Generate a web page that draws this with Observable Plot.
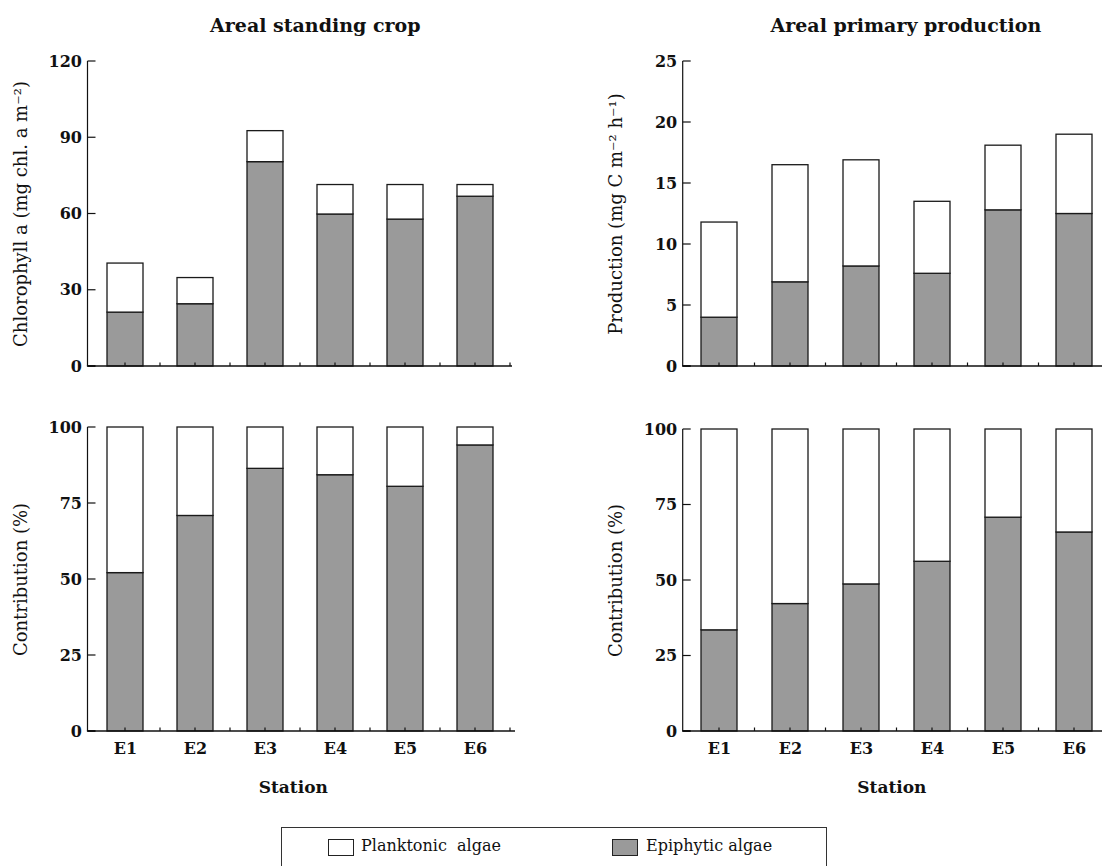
<!DOCTYPE html>
<html><head><meta charset="utf-8">
<script src="https://cdn.jsdelivr.net/npm/d3@7"></script>
<script src="https://cdn.jsdelivr.net/npm/@observablehq/plot@0.6"></script>
<style>
html,body{margin:0;padding:0;background:#fff;overflow:hidden;width:1102px;height:866px;}
#wrap{position:relative;width:1102px;height:866px;overflow:hidden;font-family:"DejaVu Serif",serif;color:#111;}
.panel{position:absolute;}
#legend{position:absolute;left:281px;top:827px;width:546px;height:42px;border:1px solid #333;box-sizing:border-box;background:#fff;}
#legend .sw{position:absolute;top:11px;width:26px;height:17px;border:1px solid #222;box-sizing:border-box;}
#legend .lb{position:absolute;top:8px;font-size:16px;line-height:20px;white-space:pre;}
</style></head><body><div id="wrap"></div>
<script>
// ---------- data ----------
const stations = ["E1", "E2", "E3", "E4", "E5", "E6"];
const seriesNames = ["Epiphytic algae", "Planktonic algae"];
const seriesColors = ["#9a9a9a", "#ffffff"];

// Areal standing crop (mg chl. a m-2)
const chlEpiphytic  = [21.2, 24.5, 80.4, 59.8, 57.8, 66.8];
const chlPlanktonic = [19.3, 10.3, 12.2, 11.6, 13.6, 4.6];
// Areal primary production (mg C m-2 h-1)
const prodEpiphytic  = [4.0, 6.9, 8.2, 7.6, 12.8, 12.5];
const prodPlanktonic = [7.8, 9.6, 8.7, 5.9, 5.3, 6.5];
// Contribution (%) – standing crop
const chlEpiphyticPct  = [52.1, 70.9, 86.4, 84.3, 80.5, 94.1];
const chlPlanktonicPct = [47.9, 29.1, 13.6, 15.7, 19.5, 5.9];
// Contribution (%) – production
const prodEpiphyticPct  = [33.5, 42.2, 48.7, 56.2, 70.8, 65.9];
const prodPlanktonicPct = [66.5, 57.8, 51.3, 43.8, 29.2, 34.1];

const ticksChl = [0, 30, 60, 90, 120];
const ticksProd = [0, 5, 10, 15, 20, 25];
const ticksPct = [0, 25, 50, 75, 100];

const titles = ["Areal standing crop", "Areal primary production"];
const yLabels = ["Chlorophyll a (mg chl. a m\u207B\u00B2)", "Production (mg C m\u207B\u00B2 h\u207B\u00B9)", "Contribution (%)"];
const xLabel = "Station";

// ---------- helpers ----------
function rows(epi, plank) {
  return stations.map((s, i) => ({station: s, type: seriesNames[0], value: epi[i]}))
    .concat(stations.map((s, i) => ({station: s, type: seriesNames[1], value: plank[i]})));
}

const PAD = 0.49;

function axesMark(yTicks, xExtend) {
  return (index, scales, values, dims) => {
    const {x, y} = scales;
    const g = d3.create("svg:g").attr("fill", "none").attr("stroke", "#111");
    const left = dims.marginLeft;
    const right = dims.width - dims.marginRight + xExtend;
    const y0 = y(0);
    g.append("line").attr("x1", left).attr("x2", left)
      .attr("y1", y(yTicks[yTicks.length - 1])).attr("y2", y0).attr("stroke-width", 1.2);
    g.append("line").attr("x1", left - 0.6).attr("x2", right)
      .attr("y1", y0).attr("y2", y0).attr("stroke-width", 1.7);
    for (const t of yTicks) {
      g.append("line").attr("x1", left).attr("x2", left + 8)
        .attr("y1", y(t)).attr("y2", y(t)).attr("stroke-width", t === 0 ? 2 : 1.2);
    }
    const step = x(stations[1]) - x(stations[0]);
    let bw = x.bandwidth;
    bw = typeof bw === "function" ? bw() : (typeof bw === "number" ? bw : step * (1 - PAD));
    for (const s of stations) {
      const c = x(s) + bw / 2;
      for (const xx of [c, c + step / 2]) {
        g.append("line").attr("x1", xx).attr("x2", xx)
          .attr("y1", y0).attr("y2", y0 - 3.5).attr("stroke-width", 1.2);
      }
    }
    return g.node();
  };
}

function panel({data, yDomain, yTicks, yLabel, title, titleDx, bottom, width, height, margins, xExtend, stationDx}) {
  const marks = [
    Plot.barY(data, {x: "station", y: "value", fill: "type", stroke: "#1a1a1a", strokeWidth: 1.3}),
    axesMark(yTicks, xExtend),
    Plot.axisY({ticks: yTicks, tickSize: 0, tickPadding: 6, fontSize: 16, fontWeight: "bold", label: null}),
    Plot.text([yLabel], {frameAnchor: "left", rotate: -90, dx: -74, textAnchor: "middle", lineAnchor: "top", fontSize: 18, fill: "#111"})
  ];
  if (title) marks.push(Plot.text([title], {frameAnchor: "top", textAnchor: "middle", dy: -30, dx: titleDx, lineAnchor: "bottom", fontSize: 19, fontWeight: "bold", fill: "#111"}));
  if (bottom) {
    marks.push(Plot.axisX({tickSize: 0, tickPadding: 11, fontSize: 16, fontWeight: "bold", label: null}));
    marks.push(Plot.text([xLabel], {frameAnchor: "bottom", textAnchor: "middle", dy: 56, dx: stationDx, lineAnchor: "middle", fontSize: 17, fontWeight: "bold", fill: "#111"}));
  }
  return Plot.plot({
    width, height,
    marginLeft: margins[0], marginTop: margins[1], marginRight: margins[2], marginBottom: margins[3],
    style: {fontFamily: "DejaVu Serif", background: "white", color: "#111", overflow: "visible"},
    x: {domain: stations, paddingInner: PAD, paddingOuter: PAD / 2, axis: bottom ? undefined : null},
    y: {domain: yDomain, axis: null},
    color: {domain: seriesNames, range: seriesColors},
    marks
  });
}

const wrap = document.getElementById("wrap");
function place(node, left, top) {
  node.classList.add("panel");
  node.style.left = left + "px";
  node.style.top = top + "px";
  wrap.appendChild(node);
}

place(panel({data: rows(chlEpiphytic, chlPlanktonic), yDomain: [0, 120], yTicks: ticksChl, yLabel: yLabels[0],
  title: titles[0], titleDx: 15, bottom: false, width: 540, height: 400, margins: [87.5, 61, 28, 34], xExtend: 0}), 0, 0);
place(panel({data: rows(prodEpiphytic, prodPlanktonic), yDomain: [0, 25], yTicks: ticksProd, yLabel: yLabels[1],
  title: titles[1], titleDx: 9, bottom: false, width: 560, height: 400, margins: [122.7, 61, 10, 34], xExtend: 0}), 560, 0);
place(panel({data: rows(chlEpiphyticPct, chlPlanktonicPct), yDomain: [0, 100], yTicks: ticksPct, yLabel: yLabels[2],
  bottom: true, width: 540, height: 420, margins: [87.5, 27, 28, 89], xExtend: 3, stationDx: -7}), 0, 400);
place(panel({data: rows(prodEpiphyticPct, prodPlanktonicPct), yDomain: [0, 100], yTicks: ticksPct, yLabel: yLabels[2],
  bottom: true, width: 560, height: 420, margins: [122.7, 29, 10, 89], xExtend: 0, stationDx: -5}), 560, 400);

// ---------- legend ----------
const legend = document.createElement("div");
legend.id = "legend";
const legendPos = [[46, 79], [330, 364]];
seriesNames.slice().reverse().forEach((name, i) => {
  const color = seriesColors[seriesNames.indexOf(name)];
  const sw = document.createElement("div");
  sw.className = "sw"; sw.style.left = legendPos[i][0] + "px"; sw.style.background = color;
  const lb = document.createElement("div");
  lb.className = "lb"; lb.style.left = legendPos[i][1] + "px";
  lb.textContent = name === "Planktonic algae" ? "Planktonic  algae" : name;
  legend.appendChild(sw); legend.appendChild(lb);
});
wrap.appendChild(legend);
</script>
</body></html>
